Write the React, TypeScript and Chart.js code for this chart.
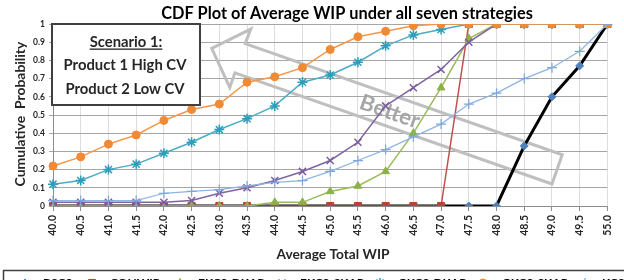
import React, { useEffect, useRef } from "react";
import { Chart, registerables } from "chart.js";
import { drawPoint } from "chart.js/helpers";

Chart.register(...registerables);

const FAMILY = "Lato, 'Open Sans', sans-serif";

const categories = [
  "40.0", "40.5", "41.0", "41.5", "42.0", "42.5", "43.0", "43.5", "44.0", "44.5",
  "45.0", "45.5", "46.0", "46.5", "47.0", "47.5", "48.0", "48.5", "49.0", "49.5", "55.0",
];

const yTickLabels = ["0", "0.1", "0.2", "0.3", "0.4", "0.5", "0.6", "0.7", "0.8", "0.9", "1"];

const seriesNames = ["BSCS", "CONWIP", "EKCS-DKAP", "EKCS-SKAP", "GKCS-DKAP", "GKCS-SKAP", "KCS"];

const bscs = [0, 0, 0, 0, 0, 0, 0, 0, 0, 0, 0, 0, 0, 0, 0, 0, 0, 0.33, 0.6, 0.77, 1];
const conwip = [0, 0, 0, 0, 0, 0, 0, 0, 0, 0, 0, 0, 0, 0, 0, 1, 1, 1, 1, 1, 1];
const ekcsDkap = [0, 0, 0, 0, 0, 0, 0, 0, 0.02, 0.02, 0.08, 0.11, 0.19, 0.4, 0.65, 0.92, 1, 1, 1, 1, 1];
const ekcsSkap = [0.02, 0.02, 0.02, 0.02, 0.02, 0.03, 0.07, 0.1, 0.14, 0.19, 0.25, 0.35, 0.55, 0.65, 0.75, 0.9, 1, 1, 1, 1, 1];
const gkcsDkap = [0.12, 0.14, 0.2, 0.23, 0.29, 0.35, 0.42, 0.48, 0.55, 0.68, 0.72, 0.79, 0.88, 0.94, 0.97, 1, 1, 1, 1, 1, 1];
const gkcsSkap = [0.22, 0.27, 0.34, 0.39, 0.47, 0.53, 0.56, 0.68, 0.71, 0.76, 0.86, 0.93, 0.96, 0.99, 1, 1, 1, 1, 1, 1, 1];
const kcs = [0.03, 0.03, 0.03, 0.03, 0.07, 0.08, 0.09, 0.11, 0.13, 0.14, 0.19, 0.25, 0.31, 0.38, 0.45, 0.56, 0.62, 0.7, 0.76, 0.85, 1];

const seriesValues = [bscs, conwip, ekcsDkap, ekcsSkap, gkcsDkap, gkcsSkap, kcs];

const titleText = "CDF Plot of Average WIP under all seven strategies";
const yTitleText = "Cumulative  Probability";
const xTitleText = "Average Total WIP";
const scenarioLines = ["Scenario 1:", "Product 1 High CV", "Product 2 Low CV"];
const arrowText = "Better";

type Style = {
  line: string;
  marker: string;
  point: string;
  radius: number;
  width: number;
  pbw: number;
};

const styles: Style[] = [
  { line: "#000000", marker: "#4F81BD", point: "rectRot", radius: 4, width: 3, pbw: 1 },
  { line: "#C0504D", marker: "#B8403D", point: "rect", radius: 5, width: 1.5, pbw: 1 },
  { line: "#9BBB59", marker: "#8CB048", point: "triangle", radius: 4.5, width: 1.5, pbw: 1 },
  { line: "#8064A2", marker: "#7A5C9E", point: "crossRot", radius: 5, width: 1.5, pbw: 1.5 },
  { line: "#4BACC6", marker: "#2E9DBA", point: "star", radius: 5, width: 1.5, pbw: 1.5 },
  { line: "#F79646", marker: "#F08A35", point: "circle", radius: 4, width: 1.5, pbw: 1 },
  { line: "#8EB4E3", marker: "#7FA6DA", point: "cross", radius: 5, width: 1.25, pbw: 1.25 },
];

const legendMarkerX = [25, 92, 180, 282, 380, 483, 585];
const legendTextX = [43, 110, 198, 300, 398, 502, 602];

function fitFont(ctx: CanvasRenderingContext2D, text: string, target: number) {
  ctx.font = `bold 20px ${FAMILY}`;
  const w = ctx.measureText(text).width;
  const size = (20 * target) / w;
  ctx.font = `bold ${size}px ${FAMILY}`;
  return size;
}

const annotations = {
  id: "annotations",
  beforeDatasetsDraw(chart: any) {
    const ctx: CanvasRenderingContext2D = chart.ctx;
    ctx.save();
    // hollow "Better" arrow
    const T = { x: 211.7, y: 48.3 };
    const th = Math.atan2(111, 316.7);
    const u = { x: Math.cos(th), y: Math.sin(th) };
    const n = { x: -Math.sin(th), y: Math.cos(th) };
    const p = (a: number, b: number) => ({ x: T.x + a * u.x + b * n.x, y: T.y + a * u.y + b * n.y });
    const pts = [p(0, 0), p(30.5, -31), p(30, -15.5), p(366, -15.5), p(366, 15.5), p(30, 15.5), p(30, 31)];
    ctx.beginPath();
    ctx.moveTo(pts[0].x, pts[0].y);
    for (let i = 1; i < pts.length; i++) ctx.lineTo(pts[i].x, pts[i].y);
    ctx.closePath();
    ctx.lineWidth = 3;
    ctx.lineJoin = "miter";
    ctx.strokeStyle = "#bfbfbf";
    ctx.stroke();
    // Better text
    const c = p(188.9, 0);
    ctx.translate(c.x, c.y);
    ctx.rotate(th);
    fitFont(ctx, arrowText, 62);
    ctx.fillStyle = "#a6a6a6";
    ctx.textAlign = "center";
    ctx.textBaseline = "middle";
    ctx.fillText(arrowText, 0, 1);
    ctx.restore();
  },
  afterDraw(chart: any) {
    const ctx: CanvasRenderingContext2D = chart.ctx;
    ctx.save();
    ctx.fillStyle = "#000";
    ctx.textAlign = "center";
    ctx.textBaseline = "middle";
    // title
    fitFont(ctx, titleText, 372);
    ctx.fillText(titleText, 347, 14);
    // x title
    fitFont(ctx, xTitleText, 113);
    ctx.fillStyle = "#262626";
    ctx.fillText(xTitleText, 333, 255);
    // y title
    ctx.save();
    ctx.translate(21, 114);
    ctx.rotate(-Math.PI / 2);
    fitFont(ctx, yTitleText, 145);
    ctx.fillText(yTitleText, 0, 0);
    ctx.restore();

    // scenario box
    ctx.fillStyle = "#ffffff";
    ctx.fillRect(52, 24, 148, 81);
    ctx.lineWidth = 2;
    ctx.strokeStyle = "#404040";
    ctx.strokeRect(52, 24, 148, 81);
    ctx.fillStyle = "#262626";
    const fs = fitFont(ctx, scenarioLines[1], 123);
    ctx.font = `bold ${fs}px ${FAMILY}`;
    ctx.fillText(scenarioLines[0], 126, 42);
    const w0 = ctx.measureText(scenarioLines[0]).width;
    ctx.fillRect(126 - w0 / 2, 48.5, w0, 1.3);
    ctx.fillText(scenarioLines[1], 125, 65);
    ctx.fillText(scenarioLines[2], 125, 89);

    // legend (cut by bottom edge)
    ctx.lineWidth = 1.5;
    ctx.strokeStyle = "#404040";
    ctx.strokeRect(3.5, 270.5, 640, 40);
    ctx.textAlign = "left";
    ctx.textBaseline = "alphabetic";
    ctx.font = `bold 12px ${FAMILY}`;
    for (let i = 0; i < seriesNames.length; i++) {
      const s = styles[i];
      const mx = legendMarkerX[i];
      const my = 283;
      ctx.strokeStyle = s.line;
      ctx.lineWidth = Math.min(s.width, 2);
      ctx.beginPath();
      ctx.moveTo(mx - 11, my);
      ctx.lineTo(mx + 11, my);
      ctx.stroke();
      ctx.fillStyle = s.marker;
      ctx.strokeStyle = s.marker;
      ctx.lineWidth = s.pbw;
      drawPoint(ctx, { pointStyle: s.point as any, radius: s.radius, rotation: 0, borderWidth: s.pbw } as any, mx, my);
      ctx.fillStyle = "#000";
      ctx.fillText(seriesNames[i], legendTextX[i], 287);
    }
    ctx.restore();
  },
};

export default function App() {
  const ref = useRef<HTMLCanvasElement>(null);
  useEffect(() => {
    const canvas = ref.current!;
    const datasets = seriesNames.map((name, i) => {
      const s = styles[i];
      return {
        label: name,
        data: seriesValues[i],
        borderColor: s.line,
        backgroundColor: s.marker,
        borderWidth: s.width,
        pointStyle: s.point,
        pointRadius: s.radius,
        pointBackgroundColor: s.marker,
        pointBorderColor: s.marker,
        pointBorderWidth: s.pbw,
        tension: 0,
        fill: false,
        order: seriesNames.length - i,
      };
    });
    const chart = new Chart(canvas, {
      type: "line",
      data: { labels: categories, datasets: datasets as any },
      options: {
        responsive: false,
        animation: false,
        events: [],
        layout: { padding: { left: 0, right: 10, top: 24, bottom: 0 } },
        plugins: {
          legend: { display: false },
          title: { display: false },
          tooltip: { enabled: false },
        },
        scales: {
          x: {
            type: "category",
            offset: false,
            grid: { color: "#dedede", tickColor: "#8c8c8c", tickLength: 5, drawTicks: true },
            border: { color: "#8c8c8c", width: 1 },
            ticks: {
              autoSkip: false,
              minRotation: 90,
              maxRotation: 90,
              padding: 4,
              color: "#262626",
              font: { family: FAMILY, size: 10.5, weight: "bold" },
            },
            afterFit: (s: any) => {
              s.height = 74;
            },
          },
          y: {
            min: 0,
            max: 1,
            ticks: {
              stepSize: 0.1,
              padding: 4,
              color: "#262626",
              font: { family: FAMILY, size: 8.5, weight: "bold" },
              callback: (_v: any, idx: number) => yTickLabels[idx],
            },
            grid: { color: "#a6a6a6", tickLength: 4, tickColor: "#a6a6a6" },
            border: { color: "#8c8c8c", width: 1 },
            afterFit: (s: any) => {
              s.width = 53;
            },
          },
        },
      } as any,
      plugins: [annotations],
    });
    return () => chart.destroy();
  }, []);
  return (
    <div style={{ position: "absolute", left: 0, top: 0, width: 624, height: 280, background: "#fff", overflow: "hidden" }}>
      <canvas ref={ref} width={624} height={280} style={{ display: "block", width: 624, height: 280 }} />
    </div>
  );
}
